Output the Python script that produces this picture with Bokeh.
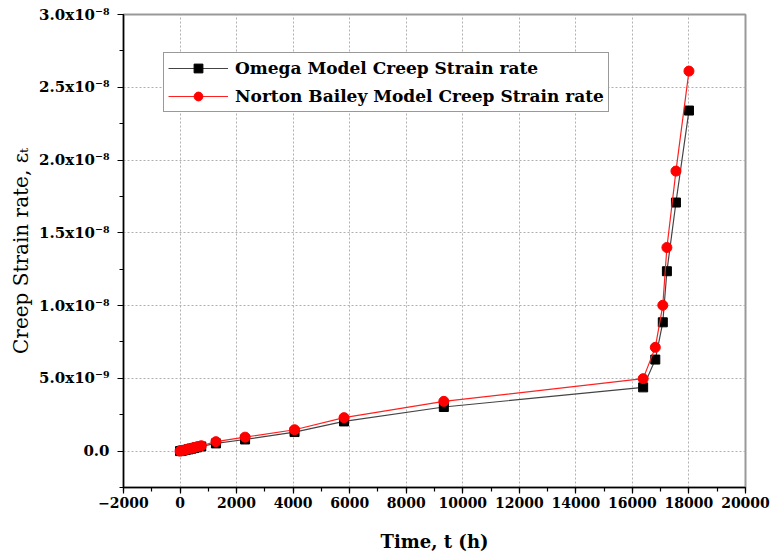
from bokeh.plotting import figure
from bokeh.models import FixedTicker, BasicTickFormatter, Range1d
from bokeh.embed import file_html
from bokeh.resources import INLINE

# Data (strain rate values in units of 1e-9)
time_h = [0, 50, 100, 200, 300, 400, 500, 600, 750, 1270, 2300, 4050, 5800,
          9330, 16380, 16810, 17075, 17220, 17540, 18000]
omega_rate = [0.0, 0.02, 0.04, 0.08, 0.12, 0.17, 0.21, 0.26, 0.32, 0.53, 0.80,
              1.31, 2.04, 3.03, 4.38, 6.29, 8.85, 12.36, 17.08, 23.40]
norton_rate = [0.0, 0.03, 0.05, 0.10, 0.15, 0.20, 0.25, 0.30, 0.37, 0.65, 0.96,
               1.47, 2.30, 3.42, 4.98, 7.13, 10.02, 13.99, 19.24, 26.11]

x_ticks = [-2000, 0, 2000, 4000, 6000, 8000, 10000, 12000, 14000, 16000, 18000, 20000]
y_ticks = [0, 5, 10, 15, 20, 25, 30]
y_tick_labels = ["0.0", "5.0x10\u207b\u2079", "1.0x10\u207b\u2078", "1.5x10\u207b\u2078",
                 "2.0x10\u207b\u2078", "2.5x10\u207b\u2078", "3.0x10\u207b\u2078"]

FONT = "DejaVu Serif"

p = figure(width=771, height=557, output_backend="svg", toolbar_location=None,
           x_range=Range1d(-2000, 20000), y_range=Range1d(-2.5, 30),
           min_border_left=123, min_border_right=26, min_border_top=14,
           min_border_bottom=70)

p.line(time_h, omega_rate, line_color="#444444", line_width=1.2,
       legend_label="Omega Model Creep Strain rate")
p.scatter(time_h, omega_rate, marker="square", size=9, fill_color="black",
          line_color="black", legend_label="Omega Model Creep Strain rate")
p.line(time_h, norton_rate, line_color="#ff2020", line_width=1.2,
       legend_label="Norton Bailey Model Creep Strain rate")
p.scatter(time_h, norton_rate, marker="circle", size=10, fill_color="red",
          line_color="red", legend_label="Norton Bailey Model Creep Strain rate")

# frame
p.outline_line_color = "#999999"
p.outline_line_width = 2
p.background_fill_color = "white"
p.border_fill_color = "white"

# x axis
p.xaxis.ticker = FixedTicker(ticks=x_ticks, minor_ticks=list(range(-2000, 20001, 1000)))
p.xaxis.formatter = BasicTickFormatter(use_scientific=False)
p.xaxis.axis_label = "Time, t (h)"
# y axis
p.yaxis.ticker = FixedTicker(ticks=y_ticks, minor_ticks=[-2.5 + 2.5 * i for i in range(14)])
p.yaxis.major_label_overrides = {t: l for t, l in zip(y_ticks, y_tick_labels)}
p.yaxis.axis_label = "Creep Strain rate, \u03b5\u209c"

for ax in (p.xaxis[0], p.yaxis[0]):
    ax.axis_line_color = "black"
    ax.axis_line_width = 1.5
    ax.major_tick_line_color = "black"
    ax.minor_tick_line_color = "black"
    ax.major_tick_line_width = 1.2
    ax.minor_tick_line_width = 1.2
    ax.major_tick_out = 6
    ax.major_tick_in = 0
    ax.minor_tick_out = 4
    ax.minor_tick_in = 0
    ax.major_label_text_font = FONT
    ax.major_label_text_font_style = "bold"
    ax.major_label_text_color = "black"
    ax.axis_label_text_font = FONT
    ax.axis_label_text_color = "black"

p.xaxis.major_label_text_font_size = "14px"
p.yaxis.major_label_text_font_size = "15px"
p.xaxis.major_label_standoff = 3
p.xaxis.axis_label_text_font_size = "18px"
p.xaxis.axis_label_text_font_style = "bold"
p.xaxis.axis_label_standoff = 20
p.yaxis.major_label_standoff = 8
p.yaxis.axis_label_text_font_size = "20px"
p.yaxis.axis_label_text_font_style = "normal"
p.yaxis.axis_label_standoff = 3

# grid
for g in (p.xgrid[0], p.ygrid[0]):
    g.grid_line_color = "#b0b0b0"
    g.grid_line_dash = "2 2"
    g.grid_line_width = 1
p.xgrid.ticker = FixedTicker(ticks=x_ticks)
p.ygrid.ticker = FixedTicker(ticks=y_ticks)

# legend
lg = p.legend[0]
lg.location = (40, 375)
lg.label_text_font = FONT
lg.label_text_font_style = "bold"
lg.label_text_font_size = "17px"
lg.label_text_color = "black"
lg.glyph_width = 60
lg.glyph_height = 22
lg.label_height = 22
lg.label_standoff = 7
lg.spacing = 6
lg.padding = 4
lg.margin = 0
lg.border_line_color = "#333333"
lg.border_line_width = 1
lg.background_fill_alpha = 1

open("out.html", "w").write(file_html(p, INLINE))
